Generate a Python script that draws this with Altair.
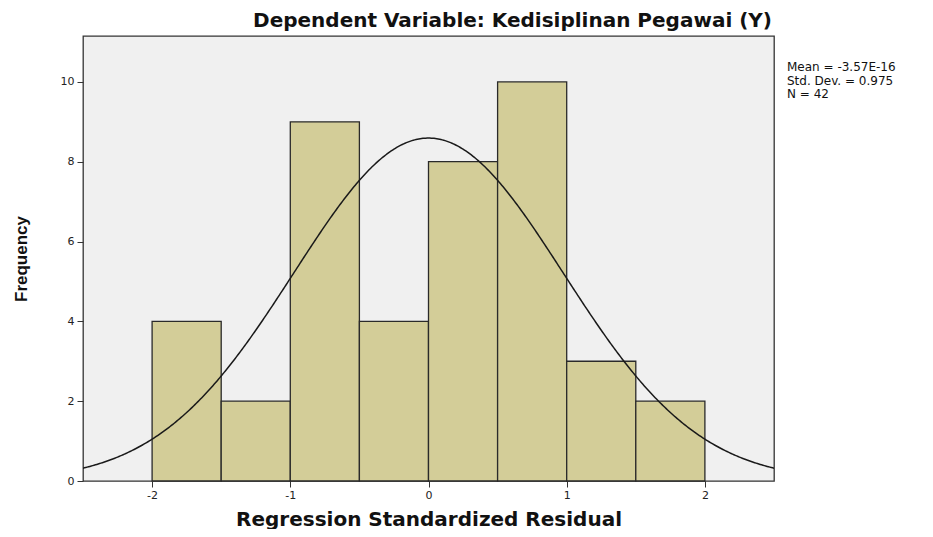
import altair as alt
import pandas as pd

# Histogram data (bins of width 0.5)
bin_starts = [-2.0, -1.5, -1.0, -0.5, 0.0, 0.5, 1.0, 1.5]
bin_ends = [-1.5, -1.0, -0.5, 0.0, 0.5, 1.0, 1.5, 2.0]
counts = [4, 2, 9, 4, 8, 10, 3, 2]

MEAN = -3.57e-16
SD = 0.975
N = 42
BIN_W = 0.5

stats_lines = ["Mean = -3.57E-16", "Std. Dev. = 0.975", "N = 42"]
x_ticks = [-2, -1, 0, 1, 2]
y_ticks = [0, 2, 4, 6, 8, 10]

W, H = 691, 445

bars_df = pd.DataFrame({"start": bin_starts, "end": bin_ends, "count": counts})
stats_df = pd.DataFrame({"line": stats_lines, "i": list(range(len(stats_lines)))})

xscale = alt.Scale(domain=[-2.5, 2.5], nice=False, zero=False)
yscale = alt.Scale(domain=[0, 11.15], nice=False)

xaxis = alt.Axis(values=x_ticks, title="Regression Standardized Residual", grid=False,
                 domain=False, tickColor="#333", tickSize=6, labelFontSize=11,
                 labelColor="#222", labelFont="DejaVu Sans", labelPadding=2,
                 labelExpr="toString(datum.value)",
                 titleFont="DejaVu Sans", titleFontSize=20, titleFontWeight="bold",
                 titleColor="#111", titlePadding=9)
yaxis = alt.Axis(values=y_ticks, title="Frequency", grid=False, domain=False,
                 tickColor="#333", tickSize=6, labelFontSize=11, labelColor="#222",
                 labelFont="DejaVu Sans", labelPadding=3,
                 titleFont="Liberation Sans", titleFontSize=17,
                 titleFontWeight="bold", titleColor="#111", titlePadding=30)

bars = alt.Chart(bars_df).mark_bar(
    color="#d3cd98", stroke="#2a2a2a", strokeWidth=1.3, opacity=1
).encode(
    x=alt.X("start:Q", scale=xscale, axis=xaxis),
    x2="end:Q",
    y=alt.Y("count:Q", scale=yscale, axis=yaxis),
    y2=alt.datum(0),
)

curve = alt.Chart(alt.sequence(-2.5, 2.501, 0.01, as_="x")).transform_calculate(
    y=f"{N}*{BIN_W}/({SD}*sqrt(2*PI))*exp(-0.5*pow((datum.x-({MEAN}))/{SD},2))"
).mark_line(color="#1a1a1a", strokeWidth=1.5, clip=True).encode(
    x=alt.X("x:Q", scale=xscale),
    y=alt.Y("y:Q", scale=yscale, axis=None),
)

stats = alt.Chart(stats_df).mark_text(
    align="left", baseline="middle", font="DejaVu Sans", fontSize=12, color="#111"
).encode(
    text="line:N",
    x=alt.value(W + 13),
    y=alt.Y("i:O", axis=None, scale=alt.Scale(domain=[0, 1, 2], range=[31, 58], padding=0)),
)

chart = alt.layer(bars, curve, stats).properties(
    width=W, height=H,
    autosize=alt.AutoSizeParams(type="none"),
    padding={"left": 75, "top": 28, "right": 145, "bottom": 48},
    title=alt.TitleParams(
        "Dependent Variable: Kedisiplinan Pegawai (Y)",
        font="DejaVu Sans", fontSize=20, fontWeight="bold", color="#111",
        anchor="middle", dx=84, offset=5,
    ),
    background="white",
).configure_view(
    fill="#f0f0f0", stroke="#333", strokeWidth=1.3
).resolve_scale(y="independent")

chart.save("out.html", embed_options={"renderer": "svg", "actions": False})
